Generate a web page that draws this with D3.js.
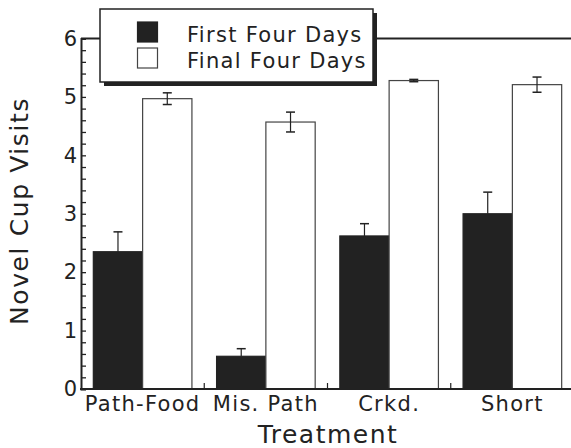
<!DOCTYPE html>
<html>
<head>
<meta charset="utf-8">
<script src="https://cdn.jsdelivr.net/npm/d3@7/dist/d3.min.js"></script>
<style>
  html, body { margin: 0; padding: 0; background: #fff; }
  svg { display: block; }
  text { font-family: "DejaVu Sans", "Liberation Sans", sans-serif; fill: #222; }
</style>
</head>
<body>
<script>
// Novel cup visits per treatment, first vs final four days (mean ± SE)
const categories = ["Path-Food", "Mis. Path", "Crkd.", "Short"];
const seriesNames = ["First Four Days", "Final Four Days"];
const firstMeans = [2.35, 0.56, 2.62, 3.00];
const firstErr   = [0.34, 0.13, 0.21, 0.37];
const finalMeans = [4.97, 4.57, 5.28, 5.21];
const finalErr   = [0.10, 0.17, 0.02, 0.13];
const yTickValues = d3.range(0, 31).map(i => i / 5);

const W = 571, H = 448;
const ink = "#222";

const svg = d3.select("body").append("svg")
  .attr("width", W).attr("height", H);

const x0 = d3.scaleBand().domain(categories).range([81, 574])
  .paddingInner(0.2).paddingOuter(0.1);
const x1 = d3.scaleBand().domain(seriesNames).range([0, x0.bandwidth()]).padding(0);
const y = d3.scaleLinear().domain([0, 6]).range([389, 38.5]);

const rows = categories.map((c, i) => ({
  cat: c,
  vals: [
    { s: seriesNames[0], v: firstMeans[i], e: firstErr[i], both: false },
    { s: seriesNames[1], v: finalMeans[i], e: finalErr[i], both: true }
  ]
}));

// frame: top line
svg.append("line").attr("x1", 81).attr("x2", 574)
  .attr("y1", y(6)).attr("y2", y(6))
  .attr("stroke", ink).attr("stroke-width", 2);

// bars
const g = svg.append("g").selectAll("g").data(rows).join("g")
  .attr("transform", d => `translate(${x0(d.cat)},0)`);

g.selectAll("rect").data(d => d.vals).join("rect")
  .attr("x", d => x1(d.s))
  .attr("y", d => y(d.v))
  .attr("width", x1.bandwidth())
  .attr("height", d => y(0) - y(d.v))
  .attr("fill", (d, i) => i === 0 ? ink : "#fff")
  .attr("stroke", (d, i) => i === 0 ? ink : "#444")
  .attr("stroke-width", 1.2);

// error bars: upward only on dark bars, both ways on open bars
const eb = g.selectAll("g.err").data(d => d.vals).join("g").attr("class", "err")
  .attr("transform", d => `translate(${x1(d.s) + x1.bandwidth() / 2},0)`);
eb.append("line")
  .attr("y1", d => y(d.v + d.e))
  .attr("y2", d => d.both ? y(d.v - d.e) : y(d.v))
  .attr("stroke", ink).attr("stroke-width", 1.2);
eb.append("line")
  .attr("x1", -4.5).attr("x2", 4.5)
  .attr("y1", d => y(d.v + d.e)).attr("y2", d => y(d.v + d.e))
  .attr("stroke", ink).attr("stroke-width", 1.5);
eb.filter(d => d.both).append("line")
  .attr("x1", -4.5).attr("x2", 4.5)
  .attr("y1", d => y(d.v - d.e)).attr("y2", d => y(d.v - d.e))
  .attr("stroke", ink).attr("stroke-width", 1.5);

// y axis with inward ticks every 0.2, labels on integers
const yAxis = d3.axisLeft(y).tickValues(yTickValues)
  .tickSize(-5).tickPadding(4)
  .tickFormat(d => Math.abs(d - Math.round(d)) < 1e-9 ? d3.format("d")(d) : "");
const ya = svg.append("g").attr("transform", "translate(81,0)").call(yAxis);
ya.select(".domain").attr("stroke", ink).attr("stroke-width", 2);
ya.selectAll(".tick line").attr("stroke", ink).attr("stroke-width", 1.3);
ya.selectAll(".tick text").attr("font-size", 21).attr("fill", ink)
  .style("font-family", "DejaVu Sans");

// x axis: category labels, ticks at group boundaries pointing up
const bounds = categories.slice(1).map(c => x0(c) - x0.step() * x0.paddingInner() / 2);
const xa = svg.append("g").attr("transform", `translate(0,${y(0)})`);
xa.append("line").attr("x1", 80).attr("x2", 574).attr("y1", 0).attr("y2", 0)
  .attr("stroke", ink).attr("stroke-width", 2);
xa.selectAll("line.tk").data(bounds).join("line").attr("class", "tk")
  .attr("x1", d => d).attr("x2", d => d).attr("y1", 0).attr("y2", -6)
  .attr("stroke", ink).attr("stroke-width", 1.2);
xa.selectAll("text").data(categories).join("text")
  .attr("x", d => x0(d) + x0.bandwidth() / 2)
  .attr("y", 22)
  .attr("text-anchor", "middle")
  .attr("font-size", 21)
  .attr("letter-spacing", 1.3)
  .text(d => d);

// axis titles
svg.append("text").attr("x", 328).attr("y", 443)
  .attr("text-anchor", "middle").attr("font-size", 25).attr("letter-spacing", 1.5)
  .text("Treatment");
svg.append("text")
  .attr("transform", "translate(28,211) rotate(-90)")
  .attr("text-anchor", "middle").attr("font-size", 25).attr("letter-spacing", 1.6)
  .text("Novel Cup Visits");

// legend box with drop shadow
const lg = svg.append("g");
lg.append("rect").attr("x", 104).attr("y", 13).attr("width", 273).attr("height", 73)
  .attr("fill", ink);
lg.append("rect").attr("x", 100).attr("y", 9).attr("width", 273).attr("height", 73)
  .attr("fill", "#fff").attr("stroke", ink).attr("stroke-width", 1.5);
const li = lg.selectAll("g.item").data(seriesNames).join("g").attr("class", "item")
  .attr("transform", (d, i) => `translate(0,${i * 26})`);
li.append("rect").attr("x", 137.5).attr("y", 22).attr("width", 20).attr("height", 20)
  .attr("fill", (d, i) => i === 0 ? ink : "#fff")
  .attr("stroke", (d, i) => i === 0 ? ink : "#444").attr("stroke-width", 1.2);
li.append("text").attr("x", 187).attr("y", 42)
  .attr("font-size", 21).attr("letter-spacing", 1.3)
  .text(d => d);
</script>
</body>
</html>
